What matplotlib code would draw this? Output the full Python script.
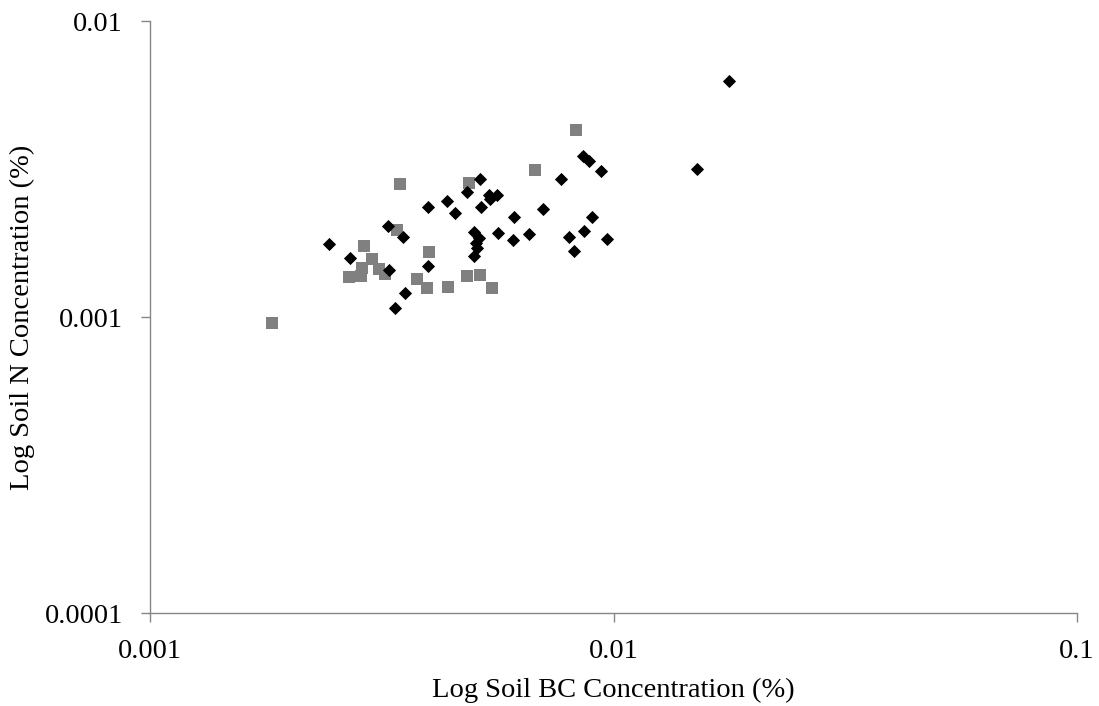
import numpy as np
import matplotlib
matplotlib.use("Agg")
import matplotlib.pyplot as plt
from matplotlib.ticker import FixedLocator, FuncFormatter, NullLocator

# black diamonds
bc_a = [0.01774, 0.01514, 0.00859, 0.00885, 0.0094, 0.00771, 0.00515, 0.00483,
        0.00538, 0.00561, 0.00541, 0.00438, 0.00455, 0.00518, 0.00705, 0.0061,
        0.00899, 0.0050, 0.00513, 0.00563, 0.00657, 0.00607, 0.00863, 0.00802,
        0.00968, 0.00822, 0.00505, 0.00508, 0.0050, 0.00398, 0.00326, 0.00351,
        0.00243, 0.0027, 0.00398, 0.00328, 0.00355, 0.00338]
n_a = [0.00627, 0.003162, 0.0035, 0.00336, 0.00311, 0.00292, 0.00292, 0.00264,
       0.00258, 0.00258, 0.0025, 0.00247, 0.00225, 0.00235, 0.00232, 0.00218,
       0.00218, 0.00194, 0.00185, 0.00192, 0.00191, 0.00182, 0.00195, 0.00186,
       0.00183, 0.00167, 0.00178, 0.00171, 0.00161, 0.00235, 0.00203, 0.00186,
       0.00177, 0.00158, 0.00149, 0.00144, 0.00121, 0.00107]

# grey squares
bc_b = [0.0083, 0.00678, 0.00488, 0.00346, 0.00341, 0.00289, 0.00301, 0.0040,
        0.00287, 0.00312, 0.00322, 0.00269, 0.00285, 0.00377, 0.00396, 0.0044,
        0.00483, 0.00515, 0.00546, 0.00183]
n_b = [0.00428, 0.00314, 0.00284, 0.00281, 0.00197, 0.00174, 0.00157, 0.00166,
       0.00146, 0.00145, 0.0014, 0.00137, 0.00138, 0.00134, 0.00125, 0.00126,
       0.00138, 0.00139, 0.00125, 0.000954]

x_ticks = [0.001, 0.01, 0.1]
y_ticks = [0.0001, 0.001, 0.01]

plt.rcParams['font.family'] = ['Liberation Serif', 'DejaVu Serif']

fig = plt.figure(figsize=(10.99, 7.06), dpi=100)
ax = fig.add_axes([0.1365, 0.1317, 0.8435, 0.8385])

ax.scatter(bc_a, n_a, marker='D', s=45, color='black', linewidths=0, zorder=3)
ax.scatter(bc_b, n_b, marker='s', s=75, color='#808080', linewidths=0, zorder=2)

ax.set_xscale('log')
ax.set_yscale('log')
ax.set_xlim(0.001, 0.1)
ax.set_ylim(0.0001, 0.01)

fmt = FuncFormatter(lambda v, p: ('%f' % v).rstrip('0'))
ax.xaxis.set_major_locator(FixedLocator(x_ticks))
ax.yaxis.set_major_locator(FixedLocator(y_ticks))
ax.xaxis.set_minor_locator(NullLocator())
ax.yaxis.set_minor_locator(NullLocator())
ax.xaxis.set_major_formatter(fmt)
ax.yaxis.set_major_formatter(fmt)

for s in ['top', 'right']:
    ax.spines[s].set_visible(False)
for s in ['left', 'bottom']:
    ax.spines[s].set_color('#868686')
    ax.spines[s].set_linewidth(1.0)

ax.tick_params(axis='both', which='major', direction='out', length=6.5,
               width=1.0, color='#868686', labelsize=20.5)
ax.tick_params(axis='y', pad=13)
ax.tick_params(axis='x', pad=12)

ax.set_xlabel('Log Soil BC Concentration (%)', fontsize=20.5, labelpad=10)
ax.set_ylabel('Log Soil N Concentration (%)', fontsize=20.5, labelpad=7)

fig.savefig('out.png', dpi=100)
